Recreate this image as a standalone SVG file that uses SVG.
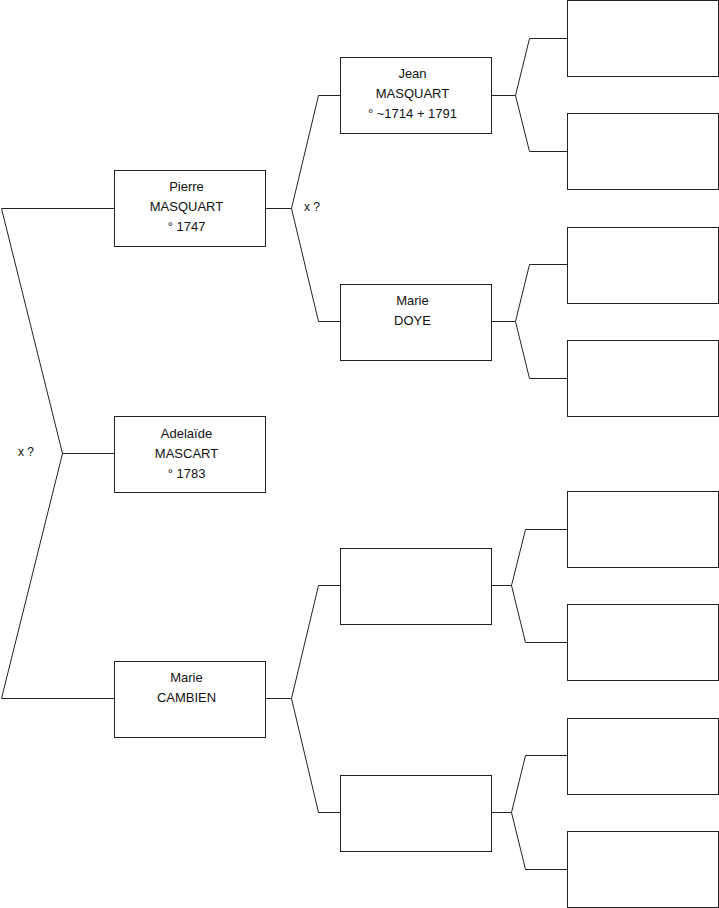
<svg xmlns="http://www.w3.org/2000/svg" width="719" height="908" viewBox="0 0 719 908">
<style>
.box{fill:#fff;stroke:#222;stroke-width:1}
.ln{fill:none;stroke:#222;stroke-width:1}
text{font-family:"Liberation Sans",Arial,sans-serif;font-size:13px;fill:#111;text-anchor:middle}
.lbl{text-anchor:start;font-size:12px}
</style>
<rect width="719" height="908" fill="#fff"/>
<g id="connectors">
<polyline class="ln" points="114,208.5 1.5,208.5 62.5,453.5 114,453.5"/>
<polyline class="ln" points="62.5,453.5 1.5,698.5 114,698.5"/>
<polyline class="ln" points="265,208.5 291.5,208.5 318.5,95.5 340,95.5"/>
<polyline class="ln" points="291.5,208.5 318.5,321.5 340,321.5"/>
<polyline class="ln" points="265,698.5 291.5,698.5 318.5,585.5 340,585.5"/>
<polyline class="ln" points="291.5,698.5 318.5,812.5 340,812.5"/>
<polyline class="ln" points="491,95.5 515.5,95.5 529.5,38.5 567,38.5"/>
<polyline class="ln" points="515.5,95.5 529.5,151.5 567,151.5"/>
<polyline class="ln" points="491,321.5 515.5,321.5 529.5,264.5 567,264.5"/>
<polyline class="ln" points="515.5,321.5 529.5,378.5 567,378.5"/>
<polyline class="ln" points="491,585.5 511.5,585.5 525.5,529.5 567,529.5"/>
<polyline class="ln" points="511.5,585.5 525.5,642.5 567,642.5"/>
<polyline class="ln" points="491,812.5 511.5,812.5 525.5,755.5 567,755.5"/>
<polyline class="ln" points="511.5,812.5 525.5,869.5 567,869.5"/>
<text class="lbl" x="18" y="456">x ?</text>
<text class="lbl" x="304" y="211">x ?</text>
</g>
<g id="pierre"><rect class="box" x="114.5" y="170.5" width="151" height="76"/><text x="186.5" y="191">Pierre</text><text x="186.5" y="211">MASQUART</text><text x="186.5" y="231">° 1747</text></g>
<g id="adelaide"><rect class="box" x="114.5" y="416.5" width="151" height="76"/><text x="186.5" y="438">Adelaïde</text><text x="186.5" y="458">MASCART</text><text x="186.5" y="478">° 1783</text></g>
<g id="marie-cambien"><rect class="box" x="114.5" y="661.5" width="151" height="76"/><text x="186.5" y="682">Marie</text><text x="186.5" y="702">CAMBIEN</text></g>
<g id="jean"><rect class="box" x="340.5" y="57.5" width="151" height="76"/><text x="412.5" y="78">Jean</text><text x="412.5" y="98">MASQUART</text><text x="412.5" y="118">° ~1714 + 1791</text></g>
<g id="marie-doye"><rect class="box" x="340.5" y="284.5" width="151" height="76"/><text x="412.5" y="305">Marie</text><text x="412.5" y="325">DOYE</text></g>
<g id="g2-3"><rect class="box" x="340.5" y="548.5" width="151" height="76"/></g>
<g id="g2-4"><rect class="box" x="340.5" y="775.5" width="151" height="76"/></g>
<g id="g3-1"><rect class="box" x="567.5" y="0.5" width="151" height="76"/></g>
<g id="g3-2"><rect class="box" x="567.5" y="113.5" width="151" height="76"/></g>
<g id="g3-3"><rect class="box" x="567.5" y="227.5" width="151" height="76"/></g>
<g id="g3-4"><rect class="box" x="567.5" y="340.5" width="151" height="76"/></g>
<g id="g3-5"><rect class="box" x="567.5" y="491.5" width="151" height="76"/></g>
<g id="g3-6"><rect class="box" x="567.5" y="604.5" width="151" height="76"/></g>
<g id="g3-7"><rect class="box" x="567.5" y="718.5" width="151" height="76"/></g>
<g id="g3-8"><rect class="box" x="567.5" y="831.5" width="151" height="76"/></g>
</svg>
